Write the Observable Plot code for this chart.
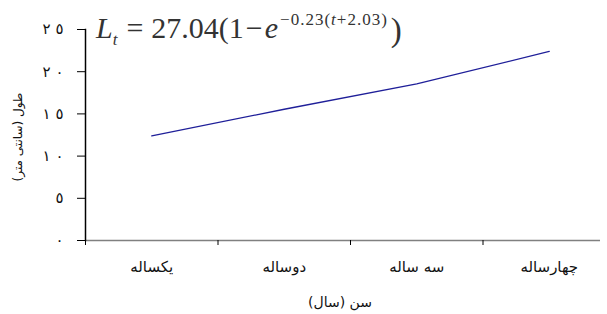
<!DOCTYPE html>
<html>
<head>
<meta charset="utf-8">
<script src="https://cdn.jsdelivr.net/npm/d3@7"></script>
<script src="https://cdn.jsdelivr.net/npm/@observablehq/plot@0.6"></script>
<style>
  html, body { margin: 0; padding: 0; background: #fff; }
  #wrap { position: relative; width: 607px; height: 314px; }
  #formula { position: absolute; left: 96px; top: 11px; font-family: "Liberation Serif", "Times New Roman", serif; font-size: 30px; color: #333; white-space: nowrap; line-height: 1; }
  #formula sub { font-size: 17px; vertical-align: -7px; }
  #formula sup { font-size: 17px; vertical-align: 13px; letter-spacing: 1px; margin-left: 2px; }
  #formula .eq { margin: 0 8px 0 9px; }
  #formula .mn { margin: 0 2px 0 2px; }
  #formula .big { font-size: 33px; display: inline-block; transform: translateY(3px); margin-left: 3px; }
</style>
</head>
<body>
<div id="wrap">
  <div id="formula"><i>L</i><sub><i>t</i></sub><span class="eq">=</span>27.04(1<span class="mn">−</span><i>e</i><sup>−0.23(<i>t</i>+2.03)</sup><span class="big">)</span></div>
</div>
<script>
const categories = ["يكساله", "دوساله", "سه ساله", "چهارساله"];
const lengths = [12.4, 15.55, 18.55, 22.4];
const yTicks = [0, 5, 10, 15, 20, 25];
const yTickLabels = ["٠", "٥", "١٠", "١٥", "٢٠", "٢٥"];
const xTitle = "سن (سال)";
const yTitle = "طول (سانتی متر)";

const data = categories.map((c, i) => ({cat: c, pos: i + 0.5, len: lengths[i]}));
const arabicFont = "DejaVu Sans";
// spread digits apart (as in the reference) while keeping left-to-right order
const spaced = (s) => Array.from(s).join("\u200E \u200E");

const chart = Plot.plot({
  width: 607,
  height: 314,
  marginLeft: 85,
  marginRight: 7,
  marginTop: 29,
  marginBottom: 74,
  style: {fontFamily: arabicFont, background: "#fff"},
  x: {domain: [0, 4], range: [85, 615]},
  y: {domain: [0, 25]},
  marks: [
    Plot.ruleY([0], {stroke: "#808080", strokeWidth: 1.5}),
    Plot.axisX([0, 1, 2, 3], {tickSize: 5, tickFormat: () => "", stroke: "#000", label: null}),
    Plot.axisX(data.map(d => d.pos), {tickSize: 0, tickPadding: 21, fontSize: 15, fill: "#111",
      tickFormat: (d) => categories[Math.round(d - 0.5)], label: null}),
    Plot.axisY(yTicks, {tickSize: 8, tickPadding: 14, fontSize: 15, fill: "#111",
      tickFormat: (d) => spaced(yTickLabels[yTicks.indexOf(d)]), label: null}),
    Plot.frame({anchor: "left", stroke: "#000", strokeWidth: 1.5}),
    Plot.text([yTitle], {frameAnchor: "left", textAnchor: "middle", lineAnchor: "middle", rotate: -90, dx: -67, dy: 2, fontSize: 12, fill: "#111"}),
    Plot.text([xTitle], {frameAnchor: "bottom", dy: 66, dx: -3, fontSize: 14, fill: "#111"}),
    Plot.line(data, {x: "pos", y: "len", stroke: "#1f1f99", strokeWidth: 1.3})
  ]
});
document.getElementById("wrap").prepend(chart);
chart.style.position = "absolute";
chart.style.left = "0";
chart.style.top = "0";
</script>
</body>
</html>
